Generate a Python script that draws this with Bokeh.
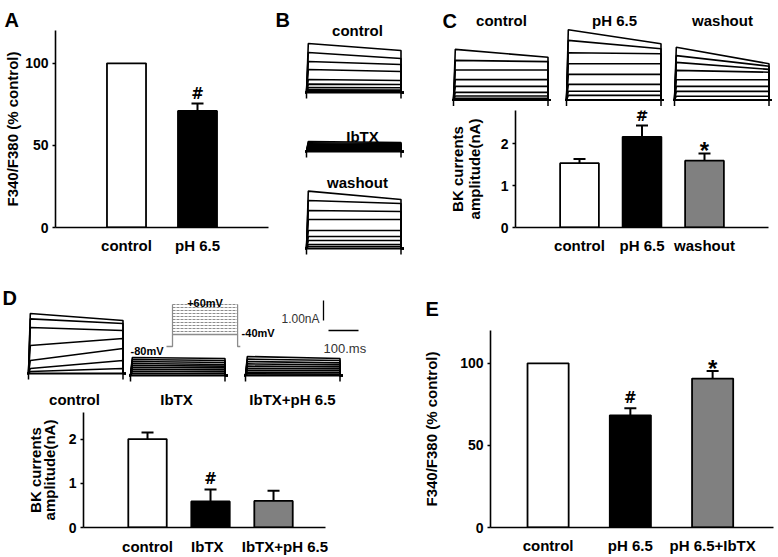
from bokeh.plotting import figure
from bokeh.layouts import row, column
from bokeh.models import (Range1d, FixedTicker, LinearAxis, Whisker,
                          ColumnDataSource, TeeHead)
from bokeh.core.properties import value
from bokeh.embed import file_html
from bokeh.resources import INLINE

FONT = "Liberation Sans"
MARK_FONT = {"#": "DejaVu Sans", "*": "Liberation Sans"}
MARK_SIZE = {"#": "15px", "*": "24px"}
MARK_OFFSET = {"#": -10, "*": -3}

# ---------------- bar-chart data ----------------
A_groups = ["control", "pH 6.5"]
A_mean = [100, 71]
A_sem = [0, 4.5]
A_marks = ["", "#"]

C_groups = ["control", "pH 6.5", "washout"]
C_mean = [1.54, 2.17, 1.60]
C_sem = [0.10, 0.27, 0.17]
C_marks = ["", "#", "*"]

D_groups = ["control", "IbTX", "IbTX+pH 6.5"]
D_mean = [2.00, 0.59, 0.60]
D_sem = [0.15, 0.27, 0.23]
D_marks = ["", "#", ""]

E_groups = ["control", "pH 6.5", "pH 6.5+IbTX"]
E_mean = [100, 68.3, 90.7]
E_sem = [0, 4.4, 4.6]
E_marks = ["", "#", "*"]

BAR_COLORS = ["white", "black", "#808080"]

# ---------------- current traces (nA): early peak and end-of-step level ----------------
B_control_peak = [2.45, 2.00, 1.55, 1.15, 0.65, 0.42, 0.25, 0.13, 0.05]
B_control_end = [2.10, 1.70, 1.40, 1.05, 0.60, 0.40, 0.24, 0.12, 0.05]
B_ibtx_peak = [0.50, 0.44, 0.38, 0.32, 0.26, 0.20, 0.14, 0.08, 0.03]
B_ibtx_end = [0.45, 0.40, 0.35, 0.30, 0.24, 0.19, 0.13, 0.08, 0.03]
B_washout_peak = [2.87, 2.40, 1.90, 1.45, 0.90, 0.60, 0.40, 0.20, 0.10]
B_washout_end = [2.45, 2.25, 1.85, 1.45, 0.90, 0.60, 0.40, 0.20, 0.10]

C_control_peak = [2.53, 1.98, 1.50, 1.02, 0.68, 0.38, 0.20, 0.08]
C_control_end = [2.14, 1.92, 1.50, 1.02, 0.68, 0.38, 0.20, 0.08]
C_ph_peak = [3.51, 2.98, 2.36, 1.81, 1.28, 0.78, 0.44, 0.23]
C_ph_end = [2.81, 2.56, 2.31, 1.81, 1.28, 0.78, 0.44, 0.23]
C_washout_peak = [2.64, 2.22, 1.88, 1.48, 1.01, 0.68, 0.43, 0.19]
C_washout_end = [1.81, 1.69, 1.53, 1.39, 1.01, 0.68, 0.43, 0.19]

D_control_peak = [3.00, 2.73, 2.30, 1.40, 0.65, 0.25, 0.10]
D_control_end = [2.65, 2.50, 2.15, 1.75, 1.25, 0.65, 0.25]
D_ibtx_peak = [0.90, 0.80, 0.70, 0.60, 0.50, 0.40, 0.30, 0.20, 0.10]
D_ibtx_end = [0.85, 0.75, 0.65, 0.55, 0.47, 0.38, 0.28, 0.18, 0.09]
D_ibtxph_peak = [0.95, 0.82, 0.70, 0.58, 0.47, 0.36, 0.26, 0.16, 0.08]
D_ibtxph_end = [0.85, 0.75, 0.63, 0.53, 0.43, 0.33, 0.24, 0.15, 0.07]

# voltage protocol (mV) and scale bars
PROTO_HOLD_MV = -80
PROTO_STEPS_MV = [-40, -30, -20, -10, 0, 10, 20, 30, 40, 50, 60]
SCALE_NA = 1.0
SCALE_MS = 100

# ---------------- drawing scales ----------------
PX_PER_NA = 20.0
PX_PER_MS = 0.30
PX_PER_MV = 0.30
STEP_MS = 315
PRE_MS = 4
RISE_MS = 6
POST_MS = 10
CAP_NA = 0.3
PROTO_PRE_MS = 20
PROTO_STEP_MS = 217
PROTO_POST_MS = 9
TRACE_W = 1.6


def clean(p):
    p.outline_line_color = None
    p.background_fill_color = "white"
    p.border_fill_color = "white"
    p.grid.visible = False


def put_text(p, x, y, s, size, align="center", bold=True, color="black"):
    p.text(x=[x], y=[y], text=[s], text_align=align, text_baseline="alphabetic",
           text_font=value(FONT), text_font_size=size,
           text_font_style="bold" if bold else "normal", text_color=color)


def trace_fig(left, top, width, height):
    p = figure(width=width, height=height, x_range=Range1d(left, left + width),
               y_range=Range1d(top + height, top), x_axis_location=None,
               y_axis_location=None, output_backend="svg", toolbar_location=None,
               min_border=0, frame_align=False)
    clean(p)
    return p


def draw_block(p, x0, base, peaks, ends):
    xs, ys = [], []
    t = [-PRE_MS, 0, RISE_MS, STEP_MS, STEP_MS, STEP_MS + POST_MS]
    for pk, en in zip(peaks, ends):
        cur = [0, 0, pk, en, 0, 0]
        xs.append([x0 + tt * PX_PER_MS for tt in t])
        ys.append([base - c * PX_PER_NA for c in cur])
    p.multi_line(xs, ys, line_color="black", line_width=TRACE_W)
    xe = x0 + STEP_MS * PX_PER_MS
    p.segment(x0=[x0, xe], y0=[base, base], x1=[x0, xe],
              y1=[base + CAP_NA * PX_PER_NA] * 2, line_color="black", line_width=1.5)
    p.segment(x0=[x0 - PRE_MS * PX_PER_MS], y0=[base], x1=[xe + POST_MS * PX_PER_MS],
              y1=[base], line_color="black", line_width=2.2)


def bar_fig(fig_box, frame_box, xr, yr, groups, mean, sem, marks, yticks,
            ylab_inner, ylab_outer, inner_standoff, outer_standoff, bar_width,
            xlab_standoff, label_shift=None):
    fx0, fy0, fw, fh = fig_box
    l, r, t, b = frame_box
    p = figure(width=fw, height=fh, x_range=Range1d(*xr), y_range=Range1d(*yr),
               output_backend="svg", toolbar_location=None, frame_align=False,
               min_border_left=l - fx0, min_border_right=fx0 + fw - r,
               min_border_top=t - fy0, min_border_bottom=fy0 + fh - b)
    clean(p)
    xs = [i + 1 for i in range(len(groups))]
    shift = label_shift or [0] * len(xs)
    lx = [x + s for x, s in zip(xs, shift)]
    for ax in p.axis:
        ax.axis_line_width = 1.6
        ax.axis_line_color = "black"
        ax.minor_tick_line_color = None
        ax.major_label_text_font = FONT
        ax.major_label_text_font_style = "bold"
        ax.major_label_text_color = "black"
    p.xaxis.ticker = FixedTicker(ticks=lx)
    p.xaxis.major_label_overrides = {x: g for x, g in zip(lx, groups)}
    p.xaxis.major_tick_line_color = None
    p.xaxis.major_tick_out = 0
    p.xaxis.major_label_text_font_size = "15px"
    p.xaxis.major_label_standoff = xlab_standoff
    p.yaxis.ticker = FixedTicker(ticks=yticks)
    p.yaxis.major_tick_out = 3
    p.yaxis.major_tick_in = 0
    p.yaxis.major_tick_line_width = 1.5
    p.yaxis.major_label_standoff = 4
    p.yaxis.major_label_text_font_size = "14px"
    p.yaxis.axis_label = ylab_inner
    p.yaxis.axis_label_standoff = inner_standoff
    p.yaxis.axis_label_text_font = FONT
    p.yaxis.axis_label_text_font_style = "bold"
    p.yaxis.axis_label_text_font_size = "15px"
    p.yaxis.axis_label_text_color = "black"
    if ylab_outer:
        ax2 = LinearAxis(axis_label=ylab_outer, ticker=FixedTicker(ticks=[]),
                         axis_line_color=None, major_tick_line_color=None,
                         minor_tick_line_color=None, major_tick_out=0,
                         major_label_standoff=0, axis_label_standoff=outer_standoff,
                         axis_label_text_font=FONT, axis_label_text_font_style="bold",
                         axis_label_text_font_size="15px", axis_label_text_color="black")
        p.add_layout(ax2, "left")
    p.vbar(x=xs, top=mean, bottom=0, width=bar_width,
           fill_color=BAR_COLORS[:len(xs)], line_color="black", line_width=1.8)
    wx = [x for x, s in zip(xs, sem) if s > 0]
    wl = [m for m, s in zip(mean, sem) if s > 0]
    wu = [m + s for m, s in zip(mean, sem) if s > 0]
    src = ColumnDataSource(dict(x=wx, lower=wl, upper=wu))
    p.add_layout(Whisker(base="x", lower="lower", upper="upper", source=src,
                         line_color="black", line_width=2, lower_head=None,
                         upper_head=TeeHead(size=12, line_width=2, line_color="black")))
    mx = [x for x, mk in zip(xs, marks) if mk]
    my = [m + s for m, s, mk in zip(mean, sem, marks) if mk]
    mt = [mk for mk in marks if mk]
    msrc = ColumnDataSource(dict(x=mx, y=my, text=mt,
                                 size=[MARK_SIZE[m] for m in mt],
                                 yoff=[MARK_OFFSET[m] for m in mt],
                                 font=[MARK_FONT[m] for m in mt]))
    p.text(x="x", y="y", text="text", source=msrc, text_align="center",
           text_baseline="middle", y_offset="yoff", text_font="font",
           text_font_style="bold", text_font_size="size", text_color="black")
    return p


# ---------------- panel A ----------------
pAh = trace_fig(0, 0, 272, 30)
put_text(pAh, 4, 19, "A", "20px", align="left")
pA = bar_fig((0, 30, 272, 250), (55, 268, 30, 227), (0, 3), (0, 120),
             A_groups, A_mean, A_sem, A_marks, [0, 50, 100],
             "F340/F380 (% control)", None, 1, 0, 0.55, 9)

# ---------------- panel B ----------------
pB = trace_fig(272, 0, 168, 280)
put_text(pB, 275, 19, "B", "20px", align="left")
put_text(pB, 357, 30, "control", "15px")
put_text(pB, 362, 136, "IbTX", "15px")
put_text(pB, 357, 182, "washout", "15px")
draw_block(pB, 306, 92, B_control_peak, B_control_end)
draw_block(pB, 306, 151, B_ibtx_peak, B_ibtx_end)
draw_block(pB, 306, 248, B_washout_peak, B_washout_end)

# ---------------- panel C ----------------
pCt = trace_fig(440, 0, 338, 106)
put_text(pCt, 442, 20, "C", "20px", align="left")
put_text(pCt, 501, 20, "control", "15px")
put_text(pCt, 614, 20, "pH 6.5", "15px")
put_text(pCt, 722, 20, "washout", "15px")
draw_block(pCt, 453, 99.5, C_control_peak, C_control_end)
draw_block(pCt, 566, 99.5, C_ph_peak, C_ph_end)
draw_block(pCt, 674, 99.5, C_washout_peak, C_washout_end)

pCb = bar_fig((440, 106, 338, 174), (515, 768, 110, 227), (-0.024, 4.024), (0, 2.8),
              C_groups, C_mean, C_sem, C_marks, [0, 1, 2],
              "amplitude(nA)", "BK currents", 15, -3, 0.62, 9)

# ---------------- panel D ----------------
pDt = trace_fig(0, 280, 420, 128)
put_text(pDt, 2, 297, "D", "20px", align="left")
draw_block(pDt, 28, 373, D_control_peak, D_control_end)
draw_block(pDt, 130, 375, D_ibtx_peak, D_ibtx_end)
draw_block(pDt, 245, 375, D_ibtxph_peak, D_ibtxph_end)
put_text(pDt, 74, 399, "control", "15px")
put_text(pDt, 176, 399, "IbTX", "15px")
put_text(pDt, 292, 399, "IbTX+pH 6.5", "15px")

# voltage protocol
PX0 = 172
Y_M40 = 334


def vy(mv):
    return Y_M40 - (mv - (-40)) * PX_PER_MV


x_on = PX0
x_off = PX0 + PROTO_STEP_MS * PX_PER_MS
GRAY = "#8c8c8c"
dashed = [v for v in PROTO_STEPS_MV if v != PROTO_STEPS_MV[0]]
pDt.segment(x0=[x_on] * len(dashed), y0=[vy(v) for v in dashed],
            x1=[x_off] * len(dashed), y1=[vy(v) for v in dashed],
            line_color=GRAY, line_width=1.2, line_dash="3 1")
pDt.line(x=[x_on - PROTO_PRE_MS * PX_PER_MS, x_on, x_on, x_off, x_off,
            x_off + PROTO_POST_MS * PX_PER_MS],
         y=[vy(PROTO_HOLD_MV), vy(PROTO_HOLD_MV), vy(PROTO_STEPS_MV[0]),
            vy(PROTO_STEPS_MV[0]), vy(PROTO_HOLD_MV), vy(PROTO_HOLD_MV)],
         line_color=GRAY, line_width=1.3)
pDt.segment(x0=[x_on, x_off], y0=[vy(PROTO_STEPS_MV[0])] * 2, x1=[x_on, x_off],
            y1=[vy(PROTO_STEPS_MV[-1])] * 2, line_color=GRAY, line_width=1.2)
put_text(pDt, (x_on + x_off) / 2, vy(PROTO_STEPS_MV[-1]) - 2, "+60mV", "11px")
put_text(pDt, x_off + 4, vy(PROTO_STEPS_MV[0]) - 2, "-40mV", "11px", align="left")
put_text(pDt, x_on - PROTO_PRE_MS * PX_PER_MS - 3, vy(PROTO_HOLD_MV) + 4, "-80mV", "11px",
         align="right")

# scale bars
SBX = 323
SBY = 300
pDt.segment(x0=[SBX], y0=[SBY], x1=[SBX], y1=[SBY + SCALE_NA * PX_PER_NA],
            line_color="black", line_width=1.3)
pDt.segment(x0=[SBX + 5], y0=[SBY + 30], x1=[SBX + 5 + SCALE_MS * PX_PER_MS],
            y1=[SBY + 30], line_color="black", line_width=1.3)
put_text(pDt, SBX - 4, 318, "1.00nA", "12px", align="right", bold=False, color="#333333")
put_text(pDt, SBX, 348, "100.ms", "13px", align="left", bold=False, color="#333333")

pDb = bar_fig((0, 408, 420, 149), (83, 325, 412, 527), (-0.016, 3.825), (0, 2.6),
              D_groups, D_mean, D_sem, D_marks, [0, 1, 2],
              "amplitude(nA)", "BK currents", 8, -6, 0.61, 10,
              label_shift=[0, -0.05, 0.18])

# ---------------- panel E ----------------
pEh = trace_fig(420, 280, 358, 50)
put_text(pEh, 425, 308, "E", "20px", align="left")
pE = bar_fig((420, 330, 358, 227), (490, 773, 330, 527), (0.30, 3.74), (0, 120),
             E_groups, E_mean, E_sem, E_marks, [0, 50, 100],
             "F340/F380 (% control)", None, 17, 0, 0.5, 9)

layout = column(
    row(column(pAh, pA, spacing=0), pB, column(pCt, pCb, spacing=0), spacing=0),
    row(column(pDt, pDb, spacing=0), column(pEh, pE, spacing=0), spacing=0),
    spacing=0,
)

open("out.html", "w").write(file_html(layout, INLINE))
